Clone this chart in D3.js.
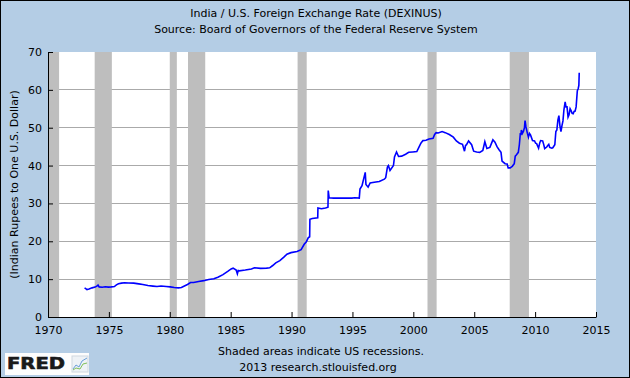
<!DOCTYPE html>
<html><head><meta charset="utf-8">
<script src="https://cdn.jsdelivr.net/npm/d3@7"></script>
<style>body{margin:0;padding:0;}svg{display:block;}text{font-family:"DejaVu Sans",Verdana,sans-serif;}</style>
</head><body>
<svg id="c" width="630" height="378"></svg>
<script>
const title = "India / U.S. Foreign Exchange Rate (DEXINUS)";
const subtitle = "Source: Board of Governors of the Federal Reserve System";
const yLabel = "(Indian Rupees to One U.S. Dollar)";
const note1 = "Shaded areas indicate US recessions.";
const note2 = "2013 research.stlouisfed.org";
const xTickYears = [1970,1975,1980,1985,1990,1995,2000,2005,2010,2015];
const yTicks = [0,10,20,30,40,50,60,70];
const recessions = [["1969-12-01","1970-11-30"],["1973-11-01","1975-03-31"],["1980-01-01","1980-07-31"],["1981-07-01","1982-11-30"],["1990-07-01","1991-03-31"],["2001-03-01","2001-11-30"],["2007-12-01","2009-06-30"]];
const dates = ["1973-01-02","1973-02-15","1973-03-15","1973-05-15","1973-08-15","1973-11-15","1974-01-15","1974-02-10","1974-03-15","1974-06-15","1974-09-15","1974-12-15","1975-03-15","1975-06-15","1975-08-15","1975-10-15","1976-01-15","1976-04-15","1976-08-15","1977-01-15","1977-06-15","1977-10-15","1978-03-15","1978-08-15","1978-12-15","1979-04-15","1979-09-15","1980-01-15","1980-05-15","1980-09-15","1980-12-15","1981-03-15","1981-06-15","1981-09-15","1981-12-15","1982-05-15","1982-10-15","1983-03-15","1983-08-15","1983-12-15","1984-05-15","1984-10-15","1985-01-15","1985-03-15","1985-06-15","1985-07-20","1985-08-15","1985-09-15","1986-03-15","1986-09-15","1986-12-15","1987-06-15","1987-12-15","1988-03-15","1988-06-15","1988-09-15","1989-01-15","1989-05-15","1989-08-15","1989-12-15","1990-06-15","1990-10-15","1991-01-15","1991-03-15","1991-05-15","1991-06-28","1991-07-05","1991-09-15","1992-02-25","1992-03-02","1992-06-15","1992-10-15","1992-12-28","1993-01-05","1993-02-01","1993-06-15","1994-03-15","1994-12-15","1995-03-15","1995-07-25","1995-08-15","1995-10-15","1996-01-20","1996-02-10","1996-04-15","1996-06-15","1996-10-15","1997-03-15","1997-08-15","1997-09-25","1997-11-15","1997-12-15","1998-02-01","1998-05-15","1998-06-15","1998-08-15","1998-10-15","1999-01-15","1999-05-15","1999-08-15","1999-12-15","2000-04-15","2000-06-15","2000-08-15","2000-10-15","2001-01-15","2001-04-15","2001-08-15","2001-10-01","2001-11-15","2002-01-15","2002-05-15","2002-08-15","2002-12-15","2003-04-15","2003-07-15","2003-10-15","2004-01-15","2004-03-15","2004-04-15","2004-05-15","2004-07-15","2004-10-15","2004-12-15","2005-03-15","2005-06-15","2005-09-15","2005-11-15","2006-01-15","2006-04-15","2006-07-15","2006-09-15","2006-11-15","2007-01-15","2007-03-15","2007-04-15","2007-07-15","2007-09-15","2007-10-15","2007-12-15","2008-01-15","2008-02-15","2008-04-15","2008-05-15","2008-06-15","2008-08-15","2008-09-15","2008-10-15","2008-11-01","2008-11-15","2008-12-15","2009-01-15","2009-02-15","2009-03-05","2009-04-01","2009-05-15","2009-06-15","2009-07-15","2009-08-15","2009-10-15","2009-12-15","2010-01-15","2010-02-15","2010-04-15","2010-05-20","2010-06-15","2010-08-15","2010-09-15","2010-10-15","2010-12-15","2011-01-15","2011-02-15","2011-03-15","2011-05-15","2011-06-15","2011-08-15","2011-09-15","2011-10-15","2011-11-15","2011-12-15","2012-01-15","2012-02-15","2012-03-15","2012-04-15","2012-05-15","2012-06-20","2012-07-15","2012-08-15","2012-09-15","2012-10-15","2012-11-15","2012-12-15","2013-01-15","2013-02-15","2013-03-15","2013-04-15","2013-05-15","2013-06-05","2013-06-20","2013-07-15","2013-08-05","2013-08-16"];
const rates = [7.70,7.45,7.25,7.40,7.70,7.90,8.20,8.45,7.95,7.85,8.00,7.90,7.95,8.05,8.50,8.80,8.95,9.05,9.00,8.95,8.75,8.60,8.30,8.15,8.05,8.20,8.05,7.95,7.80,7.70,7.80,8.20,8.60,9.10,9.10,9.40,9.60,9.90,10.10,10.50,11.20,12.10,12.70,12.90,12.40,11.40,12.30,12.20,12.40,12.70,13.00,12.85,12.90,13.00,13.60,14.30,14.90,15.80,16.60,17.00,17.30,17.80,19.20,19.80,20.90,21.20,25.80,26.00,26.20,28.80,28.60,28.80,29.00,33.40,31.50,31.40,31.45,31.40,31.50,31.40,33.80,34.70,38.20,35.00,34.30,35.40,35.60,35.80,36.40,36.80,39.60,40.00,38.70,40.00,42.30,43.60,42.40,42.50,43.00,43.50,43.60,43.70,44.80,45.90,46.60,46.70,47.00,47.20,48.20,48.70,48.60,49.00,48.70,48.20,47.50,46.50,45.90,45.60,43.80,45.30,45.50,46.50,45.50,43.80,43.60,43.50,44.00,46.30,44.50,44.80,46.80,46.20,45.00,44.20,43.50,41.20,40.50,40.40,39.40,39.40,39.60,39.80,40.50,42.50,42.80,43.50,45.50,48.60,48.00,49.40,48.50,49.00,50.00,51.90,50.20,48.50,47.50,48.50,48.10,46.60,46.50,45.90,45.80,44.60,46.00,46.60,46.50,45.60,44.50,44.90,45.30,45.60,44.80,44.60,44.70,45.50,49.00,49.40,52.00,53.20,50.50,49.00,50.50,51.80,54.80,56.80,55.50,55.50,52.80,53.40,55.00,54.50,53.80,53.70,54.30,54.40,55.50,58.00,59.80,60.30,61.20,64.50];

const svg = d3.select("#c");
const W = 630, H = 378;
const m = {left:48, right:34, top:52, bottom:61};
const parse = d3.timeParse("%Y-%m-%d");
const x = d3.scaleTime().domain([new Date(1970,0,1), new Date(2015,0,1)]).range([m.left, W - m.right]);
const y = d3.scaleLinear().domain([0,70]).range([H - m.bottom, m.top]);

svg.append("rect").attr("x",0.5).attr("y",0.5).attr("width",W-1).attr("height",H-1).attr("fill","#b4cde5").attr("stroke","#000");
svg.append("rect").attr("x",m.left).attr("y",m.top).attr("width",W-m.left-m.right).attr("height",H-m.top-m.bottom).attr("fill","#fff");

// grid
svg.append("g").selectAll("line").data(yTicks.filter(d=>d>0&&d<70)).join("line")
  .attr("x1",m.left).attr("x2",W-m.right).attr("y1",d=>y(d)).attr("y2",d=>y(d))
  .attr("stroke","#aaaaaa").attr("stroke-width",1).attr("shape-rendering","crispEdges");

// recessions
svg.append("g").selectAll("rect").data(recessions).join("rect")
  .attr("x",d=>Math.max(m.left,x(parse(d[0])))).attr("y",m.top)
  .attr("width",d=>x(parse(d[1]))-Math.max(m.left,x(parse(d[0]))))
  .attr("height",H-m.top-m.bottom).attr("fill","#bebebe");

// line
const data = dates.map((d,i)=>({date:parse(d), v:rates[i]}));
svg.append("path").datum(data)
  .attr("d", d3.line().x(d=>x(d.date)).y(d=>y(d.v)))
  .attr("fill","none").attr("stroke","#0000ff").attr("stroke-width",1.6).attr("stroke-linejoin","miter");

// axes
const yAxis = d3.axisLeft(y).tickValues(yTicks).tickSizeInner(-5).tickSizeOuter(0).tickPadding(6);
const gy = svg.append("g").attr("transform",`translate(${m.left},0)`).call(yAxis);
const xAxis = d3.axisBottom(x).tickValues(xTickYears.map(v=>new Date(v,0,1))).tickFormat(d3.timeFormat("%Y")).tickSizeInner(-5).tickSizeOuter(0).tickPadding(5);
const gx = svg.append("g").attr("transform",`translate(0,${H-m.bottom})`).call(xAxis);
[gx,gy].forEach(g=>{g.selectAll("text").attr("font-size",11).attr("fill","#000").attr("font-family","DejaVu Sans");g.selectAll("line,path").attr("stroke","#000");});
gx.selectAll("text").attr("dy","1.1em");

svg.append("text").attr("x",316).attr("y",17).attr("text-anchor","middle").attr("font-size",11).text(title);
svg.append("text").attr("x",316).attr("y",33).attr("text-anchor","middle").attr("font-size",11).text(subtitle);
svg.append("text").attr("transform",`translate(18,${(m.top+H-m.bottom)/2}) rotate(-90)`).attr("text-anchor","middle").attr("font-size",11).text(yLabel);
svg.append("text").attr("x",321).attr("y",355).attr("text-anchor","middle").attr("font-size",11).text(note1);
svg.append("text").attr("x",318).attr("y",371).attr("text-anchor","middle").attr("font-size",11).text(note2);

// FRED logo
const lg = svg.append("g");
lg.append("rect").attr("x",5).attr("y",353).attr("width",84).attr("height",22).attr("fill","#fdfdfd");
lg.append("text").attr("x",7).attr("y",369).attr("font-family","Liberation Sans, Arial, sans-serif").attr("font-weight","bold").attr("font-size",15.5).attr("textLength",58).attr("lengthAdjust","spacingAndGlyphs").attr("fill","#1a1a1a").attr("stroke","#1a1a1a").attr("stroke-width",0.6).text("FRED");
lg.append("rect").attr("x",72).attr("y",356).attr("width",16).attr("height",16).attr("fill","#eef2f6").attr("stroke","#d0d8e0");
lg.append("polyline").attr("points","73,369 76,365 79,367 82,361 87,358").attr("fill","none").attr("stroke","#6a9fd8").attr("stroke-width",1);
lg.append("polyline").attr("points","73,370 76,368 80,369 83,364 87,363").attr("fill","none").attr("stroke","#7fbf5a").attr("stroke-width",1);
</script>
</body></html>
